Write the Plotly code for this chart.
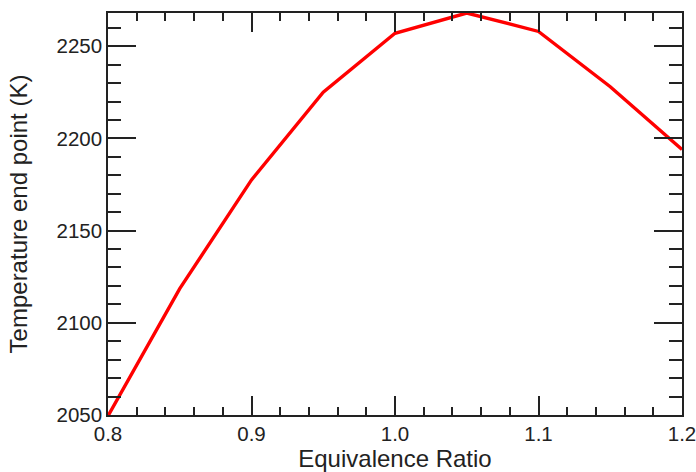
import plotly.graph_objects as go

equivalence_ratio = [0.80, 0.85, 0.90, 0.95, 1.00, 1.05, 1.10, 1.15, 1.20]
temperature_end = [2049.5, 2118.5, 2177.5, 2225.0, 2257.0, 2268.0, 2258.0, 2228.0, 2194.0]

x_ticks = [0.8, 0.9, 1.0, 1.1, 1.2]
x_labels = ["0.8", "0.9", "1.0", "1.1", "1.2"]
y_ticks = [2050, 2100, 2150, 2200, 2250]
y_labels = ["2050", "2100", "2150", "2200", "2250"]

font_family = "Liberation Sans, Arial, Helvetica, sans-serif"

fig = go.Figure()
fig.add_trace(go.Scatter(
    x=equivalence_ratio, y=temperature_end, mode="lines",
    line=dict(color="#ff0000", width=3.4), showlegend=False,
))

fig.update_layout(
    width=696, height=472,
    margin=dict(l=108, r=14, t=13, b=57, autoexpand=False),
    paper_bgcolor="white", plot_bgcolor="white",
    font=dict(family=font_family, color="#222222", size=20.5),
)

fig.update_xaxes(
    range=[0.8, 1.2], tickvals=x_ticks, ticktext=x_labels, automargin=False,
    ticklabeloverflow="allow",
    showgrid=False, zeroline=False,
    showline=True, linecolor="#222222", linewidth=1.6,
    mirror="allticks", ticks="inside", ticklen=19, tickwidth=1.6, tickcolor="#222222",
    tickfont=dict(size=20.5, family=font_family, color="#222222"),
    minor=dict(dtick=0.02, tick0=0.8, ticks="inside", ticklen=8, tickwidth=1.6, tickcolor="#222222", showgrid=False),
    title=dict(text="Equivalence Ratio", font=dict(size=24, family=font_family, color="#222222"), standoff=2),
)
fig.update_yaxes(
    range=[2050, 2268], tickvals=y_ticks, ticktext=y_labels, automargin=False,
    ticklabeloverflow="allow",
    showgrid=False, zeroline=False,
    showline=True, linecolor="#222222", linewidth=1.6,
    mirror="allticks", ticks="inside", ticklen=28, tickwidth=1.6, tickcolor="#222222",
    tickfont=dict(size=20.5, family=font_family, color="#222222"),
    minor=dict(dtick=10, tick0=2050, ticks="inside", ticklen=13, tickwidth=1.6, tickcolor="#222222", showgrid=False),
    title=dict(text="Temperature end point (K)", font=dict(size=24, family=font_family, color="#222222"), standoff=22),
)

fig.write_html("out.html")
